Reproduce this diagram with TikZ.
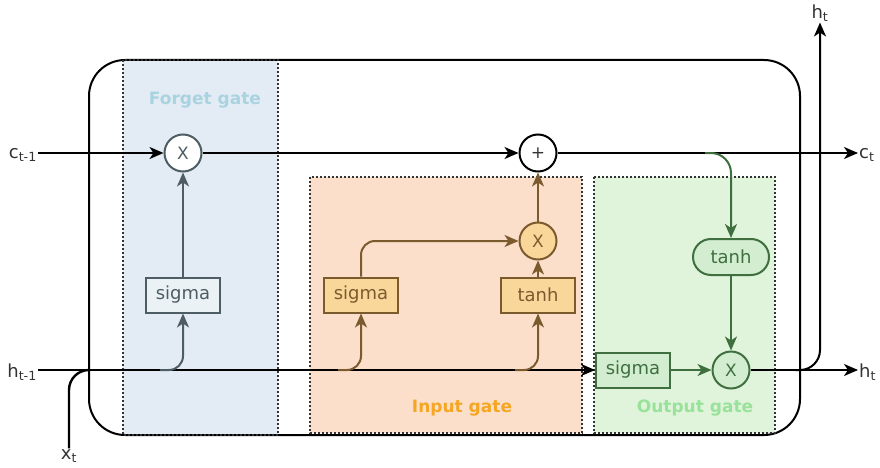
\documentclass[tikz,border=0pt]{standalone}
\usepackage{fontspec}
\setmainfont{DejaVu Sans}
\usetikzlibrary{arrows.meta,shapes.misc}

\definecolor{fbg}{HTML}{E3ECF4}
\definecolor{flab}{HTML}{A9D3E0}
\definecolor{fstr}{HTML}{4D5D63}
\definecolor{ffill}{HTML}{EAF2F6}
\definecolor{ibg}{HTML}{FBDFCA}
\definecolor{ilab}{HTML}{F5A623}
\definecolor{istr}{HTML}{7B5B2E}
\definecolor{ifill}{HTML}{F9D79A}
\definecolor{obg}{HTML}{DFF4DB}
\definecolor{olab}{HTML}{98E29A}
\definecolor{ostr}{HTML}{3F6F3F}
\definecolor{ofill}{HTML}{D2EDCF}
\definecolor{txt}{HTML}{333333}

\begin{document}
\begin{tikzpicture}[x=1pt,y=-1pt,
  ln/.style={line width=2pt},
  tip/.style={-{Stealth[length=14pt,width=12pt,inset=4pt]}},
  arr/.style={ln,tip},
  gatebox/.style={dash pattern=on 2pt off 2pt, line width=2.2pt, draw=black!80},
  gatelab/.style={font=\fontsize{17}{17}\selectfont\bfseries},
  op/.style={circle, minimum size=37pt, inner sep=0pt, line width=2pt,
    font=\fontsize{17}{17}\selectfont},
  blk/.style={rectangle, minimum width=74pt, minimum height=35pt, inner sep=0pt,
    line width=2pt, font=\fontsize{18}{18}\selectfont},
  io/.style={text=txt, inner sep=1pt, font=\fontsize{18}{18}\selectfont}
]
\useasboundingbox (0,0) rectangle (880,468);

% gate backgrounds
\fill[fbg] (123,60) rectangle (278,435);
\fill[ibg] (310,177) rectangle (582,433);
\fill[obg] (594,177) rectangle (775,433);

% cell outline
\draw[ln, rounded corners=36pt] (89,60) rectangle (800,435);

% gate borders
\draw[gatebox] (123,60) rectangle (278,435);
\draw[gatebox] (310,177) rectangle (582,433);
\draw[gatebox] (594,177) rectangle (775,433);

\node[gatelab, text=flab] (flabel) at (205,100) {Forget gate};
\node[gatelab, text=ilab] (ilabel) at (462,408) {Input gate};
\node[gatelab, text=olab] (olabel) at (695,408) {Output gate};

% inputs and outputs
\node[io, anchor=east] (cprev) at (38,155) {c\textsubscript{t-1}};
\node[io, anchor=east] (hprev) at (38,372) {h\textsubscript{t-1}};
\node[io] (xt) at (69,456) {x\textsubscript{t}};
\node[io, anchor=west] (ct) at (858,155) {c\textsubscript{t}};
\node[io, anchor=west] (htr) at (858,372) {h\textsubscript{t}};
\node[io] (htu) at (820,13) {h\textsubscript{t}};

% forget gate
\node[op, draw=fstr, fill=white, text=fstr] (fx) at (183,153) {X};
\node[blk, draw=fstr, fill=ffill, text=fstr] (fsig) at (183,295) {sigma};

% input gate
\node[op, draw=black, fill=white, text=txt] (plus) at (538,153) {+};
\node[op, draw=istr, fill=ifill, text=istr] (ix) at (538,241) {X};
\node[blk, draw=istr, fill=ifill, text=istr] (isig) at (361,295) {sigma};
\node[blk, draw=istr, fill=ifill, text=istr] (itanh) at (538,295) {tanh};

% output gate
\node[rounded rectangle, minimum width=76pt, minimum height=36pt, inner sep=0pt,
  line width=2pt, font=\fontsize{18}{18}\selectfont,
  draw=ostr, fill=ofill, text=ostr] (otanh) at (731,257) {tanh};
\node[blk, draw=ostr, fill=ofill, text=ostr] (osig) at (633,370) {sigma};
\node[op, draw=ostr, fill=ofill, text=ostr] (ox) at (731,370) {X};

% branch points
\coordinate (fb) at (160,370);
\coordinate (ib) at (338,370);
\coordinate (tb) at (515,370);
\coordinate (cb) at (705,153);
\coordinate (hb) at (795,370);
\coordinate (xj) at (89,370);
\coordinate (cin) at (38,153);
\coordinate (hin) at (38,370);

% cell state line
\draw[arr] (cin) -- (fx.west);
\draw[arr] (fx.east) -- (plus.west);
\draw[arr] (plus.east) -- (plus.east -| ct.west);
\draw[ln, ostr, tip, rounded corners=20pt]
  (cb) -- (otanh.north |- cb) -- (otanh.north);

% hidden state and input
\draw[ln, line width=2.4pt, rounded corners=20pt] (xt.north) |- (xj);
\draw[arr, line width=2.4pt] (hin) -- (osig.west);
\draw[arr, fstr, rounded corners=14pt] (fb) -| (fsig.south);
\draw[arr, istr, rounded corners=14pt] (ib) -| (isig.south);
\draw[arr, istr, rounded corners=14pt] (tb) -| (itanh.south);

% gate internals
\draw[arr, fstr] (fsig.north) -- (fx.south);
\draw[arr, istr, rounded corners=14pt] (isig.north) |- (ix.west);
\draw[arr, istr] (itanh.north) -- (ix.south);
\draw[arr, istr] (ix.north) -- (plus.south);
\draw[arr, ostr] (otanh.south) -- (ox.north);
\draw[arr, ostr] (osig.east) -- (ox.west);

% outputs
\draw[arr] (ox.east) -- (ox.east -| htr.west);
\draw[arr, rounded corners=20pt] (hb) -| (htu.south);
\end{tikzpicture}
\end{document}
